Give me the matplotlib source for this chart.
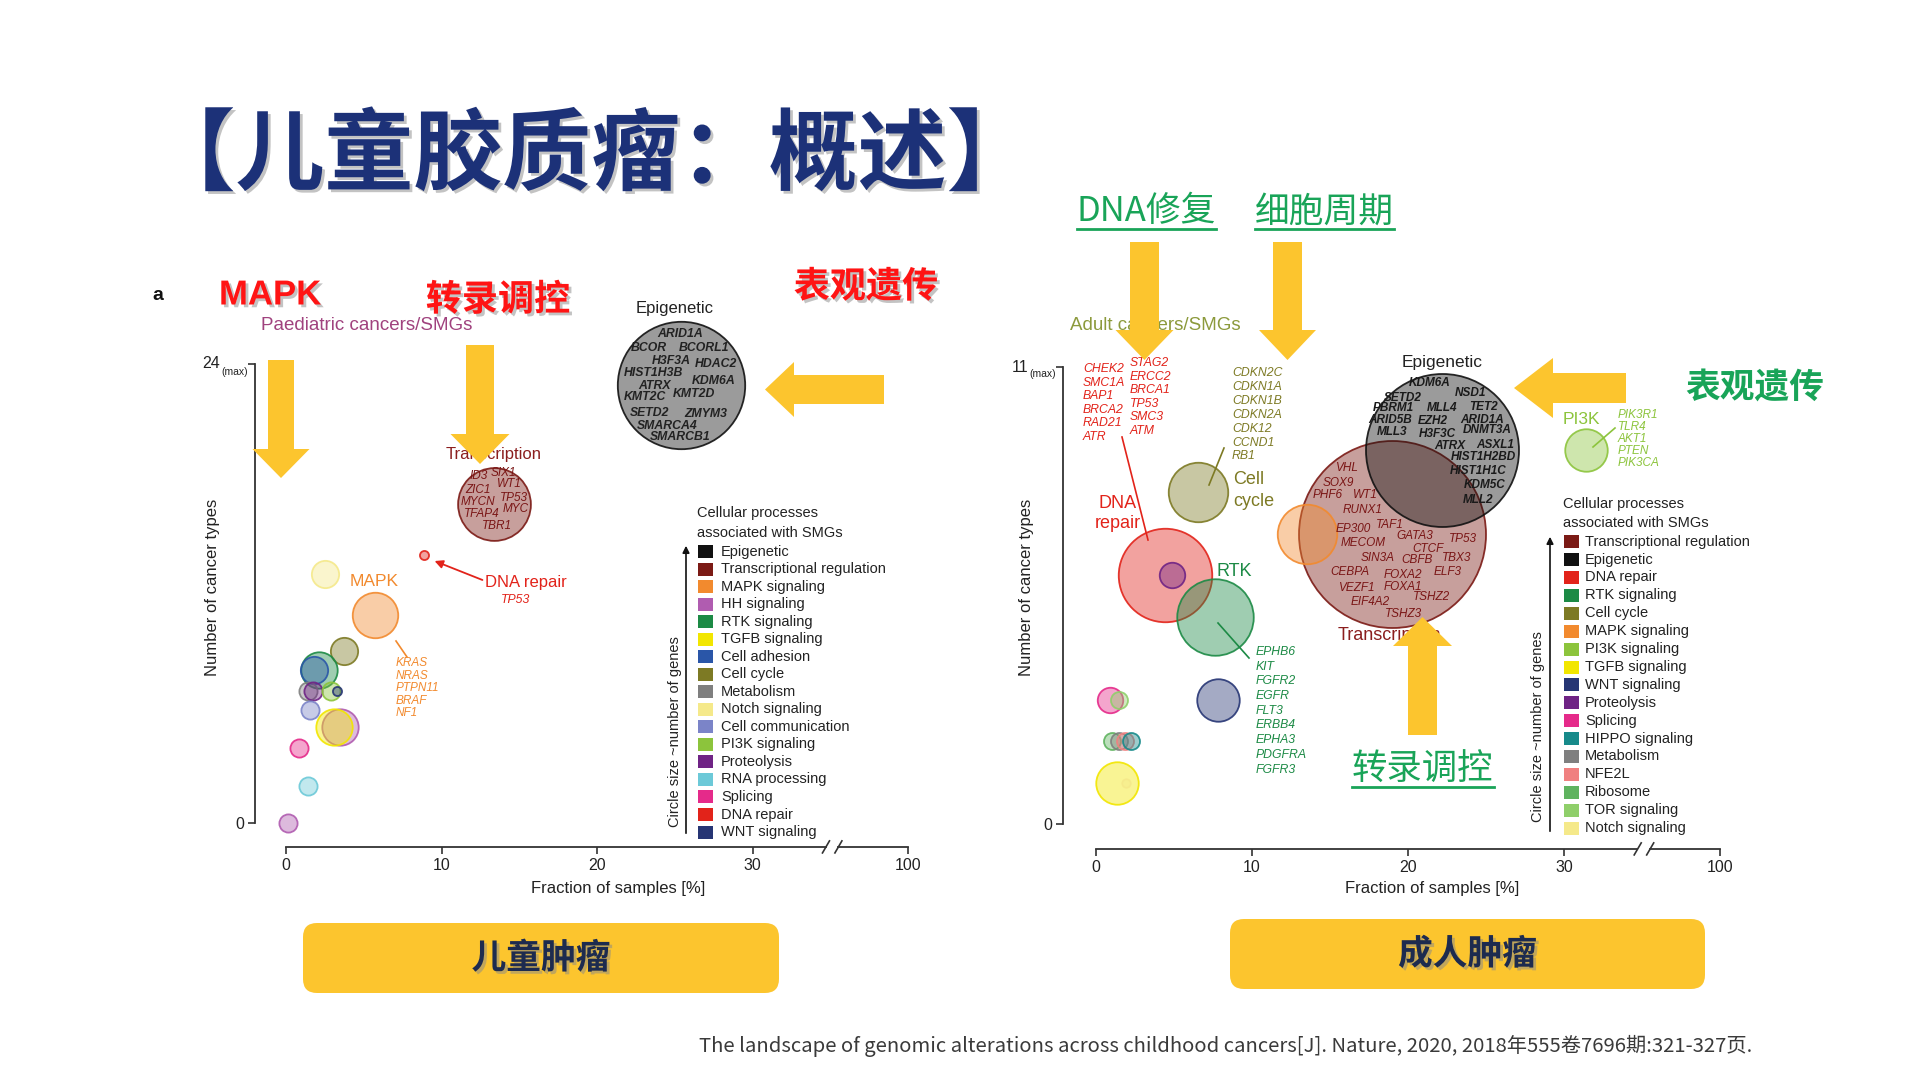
import numpy as np
import matplotlib
matplotlib.use("Agg")
import matplotlib.pyplot as plt
import matplotlib.patheffects as pe
from matplotlib.patches import Polygon, Rectangle, FancyBboxPatch

W, H = 1920, 1080
plt.rcParams['font.family'] = ['Liberation Sans', 'Noto Sans CJK SC']
CJK = ['Noto Sans CJK SC', 'DejaVu Sans']

# ---data---
cat_colors = {
    "Epigenetic": "#111111",
    "Transcriptional regulation": "#7b1a15",
    "MAPK signaling": "#f28a2e",
    "HH signaling": "#b05cb0",
    "RTK signaling": "#1c8a45",
    "TGFB signaling": "#f2e600",
    "Cell adhesion": "#2a56a8",
    "Cell cycle": "#7d7a24",
    "Metabolism": "#7f7f7f",
    "Notch signaling": "#f5e98a",
    "Cell communication": "#7b84c8",
    "PI3K signaling": "#8cc43c",
    "Proteolysis": "#6f2385",
    "RNA processing": "#6cc9d8",
    "Splicing": "#e52a8a",
    "DNA repair": "#e2231a",
    "WNT signaling": "#263574",
    "HIPPO signaling": "#178a8a",
    "NFE2L": "#f08080",
    "Ribosome": "#5fb35f",
    "TOR signaling": "#8fcf6a",
}

# paediatric cancers: fraction of samples [%], number of cancer types, number of genes
ped_cats = ["Epigenetic", "Transcriptional regulation", "DNA repair", "Notch signaling",
            "MAPK signaling", "Cell cycle", "RTK signaling", "Cell adhesion", "Metabolism",
            "Proteolysis", "PI3K signaling", "WNT signaling", "Cell communication",
            "HH signaling", "TGFB signaling", "Splicing", "RNA processing", "HH signaling"]
ped_x = [25.4, 13.4, 8.9, 2.5, 5.7, 3.7, 2.1, 1.8, 1.4, 1.75, 2.9, 3.25, 1.55,
         3.5, 3.1, 0.85, 1.4, 0.1]
ped_y = [22.9, 16.7, 14.0, 13.0, 10.9, 9.0, 8.0, 8.0, 6.9, 6.9, 6.9, 6.9, 5.9,
         5.0, 5.0, 3.9, 1.95, 0.0]
ped_genes = [14, 8, 1, 3, 5, 3, 4, 3, 2, 2, 2, 1, 2, 4, 4, 2, 2, 2]

# adult cancers
adult_cats = ["Transcriptional regulation", "Epigenetic", "MAPK signaling", "Cell cycle",
              "DNA repair", "Proteolysis", "RTK signaling", "WNT signaling", "Splicing",
              "TOR signaling", "Ribosome", "Metabolism", "NFE2L", "HIPPO signaling",
              "TGFB signaling", "Notch signaling", "PI3K signaling"]
adult_x = [18.95, 22.2, 13.55, 6.55, 4.4, 4.85, 7.65, 7.8, 0.9, 1.5, 1.05, 1.5, 1.85,
           2.25, 1.35, 1.9, 31.4]
adult_y = [7.0, 9.0, 7.0, 8.0, 6.0, 6.0, 5.0, 3.0, 3.0, 3.0, 2.0, 2.0, 2.0, 2.0,
           1.0, 1.0, 9.0]
adult_genes = [22, 18, 7, 7, 11, 3, 9, 5, 3, 2, 2, 2, 2, 2, 5, 1, 5]

ped_legend = ["Epigenetic", "Transcriptional regulation", "MAPK signaling", "HH signaling",
              "RTK signaling", "TGFB signaling", "Cell adhesion", "Cell cycle", "Metabolism",
              "Notch signaling", "Cell communication", "PI3K signaling", "Proteolysis",
              "RNA processing", "Splicing", "DNA repair", "WNT signaling"]
adult_legend = ["Transcriptional regulation", "Epigenetic", "DNA repair", "RTK signaling",
                "Cell cycle", "MAPK signaling", "PI3K signaling", "TGFB signaling",
                "WNT signaling", "Proteolysis", "Splicing", "HIPPO signaling", "Metabolism",
                "NFE2L", "Ribosome", "TOR signaling", "Notch signaling"]

x_ticks = [0, 10, 20, 30, 40]
x_tick_labels = ["0", "10", "20", "30", "100"]

ped_epi_genes = [("ARID1A", 680, 334), ("BCOR", 649, 348), ("BCORL1", 704, 348),
                 ("H3F3A", 671, 361), ("HDAC2", 716, 364), ("HIST1H3B", 653, 373),
                 ("ATRX", 654, 386), ("KDM6A", 714, 381), ("KMT2C", 645, 397),
                 ("KMT2D", 694, 394), ("SETD2", 650, 413), ("ZMYM3", 706, 414),
                 ("SMARCA4", 667, 426), ("SMARCB1", 680, 437)]
ped_tr_genes = [("ID3", 479, 476), ("SIX1", 503, 473), ("ZIC1", 478, 490), ("WT1", 509, 484),
                ("MYCN", 478, 502), ("TP53", 514, 498), ("TFAP4", 482, 514),
                ("MYC", 516, 509), ("TBR1", 497, 526)]
ped_mapk_genes = ["KRAS", "NRAS", "PTPN11", "BRAF", "NF1"]

adult_epi_genes = [("KDM6A", 1430, 383), ("SETD2", 1403, 398), ("NSD1", 1470, 393),
                   ("PBRM1", 1393, 408), ("MLL4", 1442, 408), ("TET2", 1483, 407),
                   ("ARID5B", 1390, 420), ("EZH2", 1433, 421), ("ARID1A", 1482, 420),
                   ("MLL3", 1392, 432), ("H3F3C", 1437, 434), ("DNMT3A", 1487, 430),
                   ("ATRX", 1450, 446), ("ASXL1", 1495, 445), ("HIST1H2BD", 1483, 457),
                   ("HIST1H1C", 1478, 471), ("KDM5C", 1485, 485), ("MLL2", 1478, 500)]
adult_tr_genes = [("VHL", 1347, 468), ("SOX9", 1338, 483), ("PHF6", 1328, 495),
                  ("WT1", 1365, 495), ("RUNX1", 1363, 510), ("EP300", 1353, 529),
                  ("TAF1", 1390, 525), ("MECOM", 1363, 543), ("GATA3", 1415, 536),
                  ("TP53", 1463, 539), ("CTCF", 1428, 549), ("SIN3A", 1378, 558),
                  ("CBFB", 1417, 560), ("TBX3", 1457, 558), ("CEBPA", 1350, 572),
                  ("FOXA2", 1403, 575), ("ELF3", 1448, 572), ("VEZF1", 1357, 588),
                  ("FOXA1", 1403, 587), ("TSHZ2", 1432, 597), ("EIF4A2", 1370, 602),
                  ("TSHZ3", 1403, 614)]
adult_dna_genes_1 = ["CHEK2", "SMC1A", "BAP1", "BRCA2", "RAD21", "ATR"]
adult_dna_genes_2 = ["STAG2", "ERCC2", "BRCA1", "TP53", "SMC3", "ATM"]
adult_cc_genes = ["CDKN2C", "CDKN1A", "CDKN1B", "CDKN2A", "CDK12", "CCND1", "RB1"]
adult_rtk_genes = ["EPHB6", "KIT", "FGFR2", "EGFR", "FLT3", "ERBB4", "EPHA3", "PDGFRA", "FGFR3"]
adult_pi3k_genes = ["PIK3R1", "TLR4", "AKT1", "PTEN", "PIK3CA"]

title = "【儿童胶质瘤：概述】"
citation = "The landscape of genomic alterations across childhood cancers[J]. Nature, 2020, 2018年555卷7696期:321-327页."

YEL = "#fcc52e"
NAVY = "#1c3178"
RED = "#ff1414"
GREEN = "#19a458"

fig = plt.figure(figsize=(19.2, 10.8), dpi=100)


def chart_axes(x0, xpu, y0, ypu, xlim, ylim):
    left = x0 + xlim[0] * xpu
    right = x0 + xlim[1] * xpu
    bottom = y0 - ylim[0] * ypu
    top = y0 - ylim[1] * ypu
    ax = fig.add_axes([left / W, 1 - bottom / H, (right - left) / W, (bottom - top) / H])
    ax.set_xlim(*xlim)
    ax.set_ylim(*ylim)
    ax.patch.set_alpha(0)
    for s in ["top", "right", "bottom"]:
        ax.spines[s].set_visible(False)
    ax.spines["left"].set_linewidth(1.3)
    ax.spines["left"].set_color("#333333")
    ax.set_xticks(x_ticks)
    ax.set_xticklabels(x_tick_labels)
    ax.tick_params(axis="both", direction="out", length=5, width=1.2, color="#333333",
                   labelsize=11.5, pad=3, labelcolor="#222222")
    # x axis with break
    tr = ax.get_xaxis_transform()
    ax.plot([0, 34.7], [0, 0], transform=tr, color="#333333", lw=1.3, clip_on=False)
    ax.plot([35.5, 40], [0, 0], transform=tr, color="#333333", lw=1.3, clip_on=False)
    for xb in (34.5, 35.3):
        ax.plot([xb, xb + 0.45], [-0.012, 0.012], transform=tr, color="#333333", lw=1.2,
                clip_on=False)
    return ax


def bubbles(ax, cats, xs, ys, genes, k):
    for c, x, y, n in zip(cats, xs, ys, genes):
        r = k * n
        col = matplotlib.colors.to_rgb(cat_colors[c])
        ax.scatter([x], [y], s=(2 * r * 0.72) ** 2, facecolor=col + (0.42,),
                   edgecolor=col + (0.9,), linewidth=1.3, clip_on=False, zorder=3)


# left chart
axl = chart_axes(286, 15.55, 823, 19.125, (-1.99, 42), (-1.25, 25))
axl.spines["left"].set_bounds(0, 24)
axl.set_yticks([0, 24])
axl.set_yticklabels(["0", ""])
bubbles(axl, ped_cats, ped_x, ped_y, ped_genes, 4.55)

# right chart
axr = chart_axes(1096, 15.6, 824, 41.5, (-2.1, 42), (-0.6, 11.5))
axr.spines["left"].set_bounds(0, 11)
axr.set_yticks([0, 11])
axr.set_yticklabels(["0", ""])
bubbles(axr, adult_cats, adult_x, adult_y, adult_genes, 4.25)

# overlay in pixel coordinates
ov = fig.add_axes([0, 0, 1, 1])
ov.set_xlim(0, W)
ov.set_ylim(H, 0)
ov.axis("off")
ov.patch.set_alpha(0)


def txt(x, y, s, size, color="#222222", ha="center", va="center", **kw):
    return ov.text(x, y, s, fontsize=size, color=color, ha=ha, va=va, zorder=4, **kw)


def arrow_v(xc, y0, ybase, ytip, sw, hw):
    pts = [(xc - sw / 2, y0), (xc + sw / 2, y0), (xc + sw / 2, ybase), (xc + hw / 2, ybase),
           (xc, ytip), (xc - hw / 2, ybase), (xc - sw / 2, ybase)]
    ov.add_patch(Polygon(pts, closed=True, facecolor=YEL, edgecolor="none", zorder=6))


def arrow_h(yc, x0, xbase, xtip, sh, hh):
    pts = [(x0, yc - sh / 2), (x0, yc + sh / 2), (xbase, yc + sh / 2), (xbase, yc + hh / 2),
           (xtip, yc), (xbase, yc - hh / 2), (xbase, yc - sh / 2)]
    ov.add_patch(Polygon(pts, closed=True, facecolor=YEL, edgecolor="none", zorder=6))


shadow = [pe.SimplePatchShadow(offset=(2, -2), shadow_rgbFace="#888888", alpha=0.5), pe.Normal()]

# title
txt(591, 157, title, 64, NAVY, family=CJK, weight="bold", path_effects=shadow)

# ---left panel annotations---
txt(158, 295, "a", 14, "#111111", weight="bold")
txt(219, 295, "MAPK", 25, RED, ha="left", weight="bold", path_effects=shadow)
txt(498, 300, "转录调控", 26, RED, family=CJK, weight="bold", path_effects=shadow)
txt(866, 287, "表观遗传", 26, RED, family=CJK, weight="bold", path_effects=shadow)
txt(261, 326, "Paediatric cancers/SMGs", 13.5, "#a0427e", ha="left")

txt(220, 364, "24", 11.5, ha="right")
txt(221, 372, "(max)", 7.5, ha="left")
txt(212, 587, "Number of cancer types", 12, rotation=90)
txt(618, 889, "Fraction of samples [%]", 12)

txt(675, 308, "Epigenetic", 12)
for g, x, y in ped_epi_genes:
    txt(x, y, g, 8.8, "#222222", style="italic", weight="bold")
txt(494, 455, "Transcription", 12, "#8b1e1e")
for g, x, y in ped_tr_genes:
    txt(x, y, g, 8.5, "#7a1515", style="italic")
txt(374, 582, "MAPK", 12.5, "#f28a2e")
for i, g in enumerate(ped_mapk_genes):
    txt(396, 663 + 12.6 * i, g, 8.5, "#f28a2e", ha="left", style="italic")
ov.plot([396, 407], [641, 657], color="#f28a2e", lw=1.2, zorder=4)
txt(485, 582, "DNA repair", 12, "#e2231a", ha="left")
txt(501, 600, "TP53", 8.8, "#e2231a", ha="left", style="italic")
ov.annotate("", xy=(432, 560), xytext=(485, 581),
            arrowprops=dict(arrowstyle="-|>", color="#e2231a", lw=1.3, mutation_scale=12),
            zorder=4)

# left legend
txt(697, 513, "Cellular processes", 10.5, ha="left")
txt(697, 533, "associated with SMGs", 10.5, ha="left")
for i, c in enumerate(ped_legend):
    y = 551.7 + 17.52 * i
    ov.add_patch(Rectangle((697.5, y - 6.5), 15, 13, facecolor=cat_colors[c], edgecolor="none", zorder=4))
    txt(721, y, c, 10.5, ha="left")
ov.annotate("", xy=(686, 543), xytext=(686, 836),
            arrowprops=dict(arrowstyle="-|>", color="#111111", lw=1.2, mutation_scale=10))
txt(675, 732, "Circle size ~number of genes", 10.5, rotation=90)

# left arrows
arrow_v(281, 360, 449, 478, 26, 57)
arrow_v(480, 345, 434, 464, 28, 59)
arrow_h(389.5, 884, 794, 765, 29, 55)

# ---right panel annotations---
for s, x0 in (("DNA修复", 1077), ("细胞周期", 1255)):
    t = txt(x0, 212, s, 25, GREEN, ha="left", family=CJK, weight="medium")
    fig.canvas.draw()
    bb = t.get_window_extent()
    ov.plot([x0, x0 + bb.width], [229, 229], color=GREEN, lw=2, zorder=4)
txt(1755, 387, "表观遗传", 25, GREEN, family=CJK, weight="bold")
t = txt(1352, 770, "转录调控", 25.5, GREEN, ha="left", family=CJK, weight="medium")
fig.canvas.draw()
bb = t.get_window_extent()
ov.plot([1352, 1352 + bb.width], [787, 787], color=GREEN, lw=2, zorder=4)

txt(1070, 325, "Adult cancers/SMGs", 13.5, "#8c9a3c", ha="left")
txt(1028, 367, "11", 11.5, ha="right")
txt(1029, 374, "(max)", 7.5, ha="left")
txt(1027, 587, "Number of cancer types", 12, rotation=90)
txt(1432, 888, "Fraction of samples [%]", 12)

txt(1442, 363, "Epigenetic", 12.5)
for g, x, y in adult_epi_genes:
    txt(x, y, g, 8.5, "#1a1a1a", style="italic", weight="bold")
for g, x, y in adult_tr_genes:
    txt(x, y, g, 8.5, "#7a1515", style="italic")
txt(1338, 636, "Transcription", 13, "#8b1e1e", ha="left")

for i, g in enumerate(adult_dna_genes_1):
    txt(1083, 369 + 13.6 * i, g, 8.8, "#e2231a", ha="left", style="italic")
for i, g in enumerate(adult_dna_genes_2):
    txt(1130, 363 + 13.6 * i, g, 8.8, "#e2231a", ha="left", style="italic")
txt(1118, 503, "DNA", 13, "#e2231a")
txt(1118, 524, "repair", 13, "#e2231a")
ov.plot([1122, 1148], [437, 540], color="#e2231a", lw=1.2, zorder=4)

for i, g in enumerate(adult_cc_genes):
    txt(1232, 373 + 13.9 * i, g, 8.8, "#7d7a24", ha="left", style="italic")
txt(1233, 480, "Cell", 13, "#7d7a24", ha="left")
txt(1233, 502, "cycle", 13, "#7d7a24", ha="left")
ov.plot([1224, 1209], [448, 485], color="#7d7a24", lw=1.2, zorder=4)

txt(1217, 571, "RTK", 13, "#1c8a45", ha="left")
for i, g in enumerate(adult_rtk_genes):
    txt(1256, 652 + 14.7 * i, g, 8.8, "#1c8a45", ha="left", style="italic")
ov.plot([1218, 1249], [623, 658], color="#1c8a45", lw=1.2, zorder=4)

txt(1563, 419, "PI3K", 12.5, "#8cc43c", ha="left")
for i, g in enumerate(adult_pi3k_genes):
    txt(1618, 415 + 12 * i, g, 8.5, "#8cc43c", ha="left", style="italic")
ov.plot([1593, 1615], [447, 428], color="#8cc43c", lw=1.2, zorder=4)

# right legend
txt(1563, 504, "Cellular processes", 10.5, ha="left")
txt(1563, 523, "associated with SMGs", 10.5, ha="left")
for i, c in enumerate(adult_legend):
    y = 541.7 + 17.9 * i
    ov.add_patch(Rectangle((1563.5, y - 6.5), 15, 13, facecolor=cat_colors[c], edgecolor="none", zorder=4))
    txt(1585, y, c, 10.5, ha="left")
ov.annotate("", xy=(1550, 534), xytext=(1550, 834),
            arrowprops=dict(arrowstyle="-|>", color="#111111", lw=1.2, mutation_scale=10))
txt(1538, 727, "Circle size ~number of genes", 10.5, rotation=90)

# right arrows
arrow_v(1144.5, 242, 330, 360, 29, 58)
arrow_v(1287.5, 242, 330, 360, 29, 57)
arrow_h(388, 1626, 1553, 1514, 30, 60)
arrow_v(1422.5, 735, 646, 617, 29, 59)

# banners
for x0, y0, w, h, s in ((303, 923, 476, 70, "儿童肿瘤"), (1230, 919, 475, 70, "成人肿瘤")):
    ov.add_patch(FancyBboxPatch((x0, y0), w, h, boxstyle="round,pad=0,rounding_size=14",
                                facecolor=YEL, edgecolor="none", zorder=2))
    txt(x0 + w / 2, y0 + h / 2, s, 25, "#1d2b4f", family=CJK, weight="bold", path_effects=shadow)

txt(1226, 1046, citation, 14.6, "#3a3a3a", family=CJK)

fig.savefig("out.png", dpi=100)
